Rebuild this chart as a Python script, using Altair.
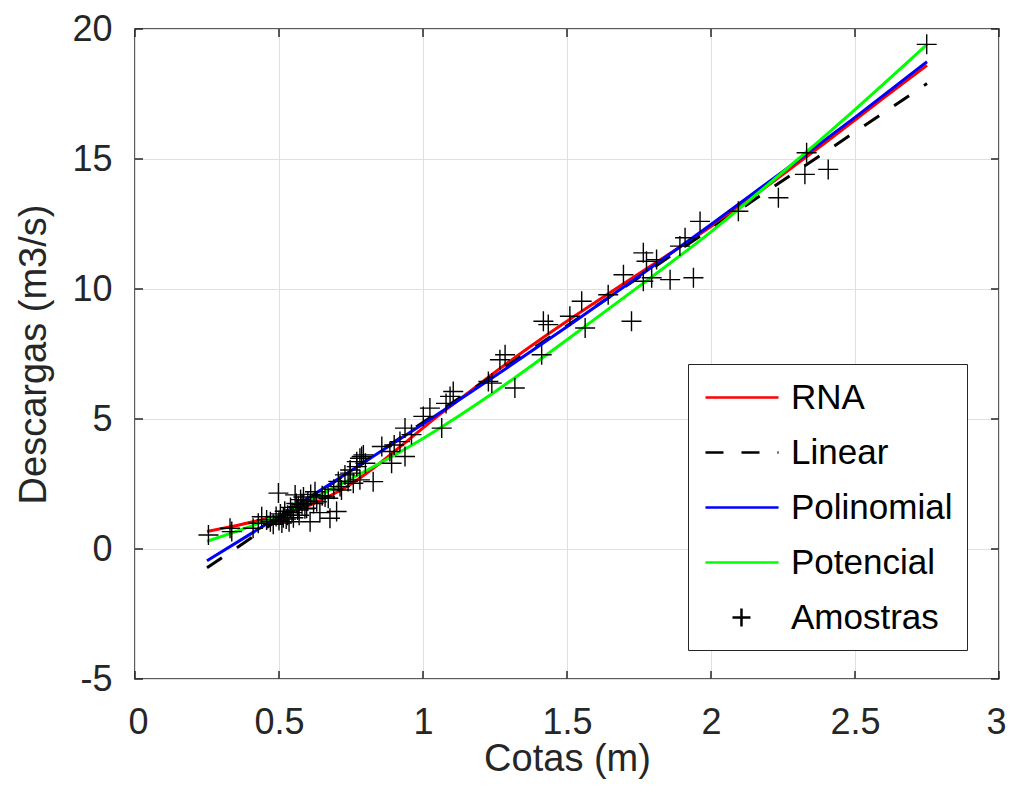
import altair as alt
import pandas as pd

FONT = "Liberation Sans"
FRAME = "#262626"

series_names = ["RNA", "Linear", "Polinomial", "Potencial", "Amostras"]
series_colors = ["#ff0000", "#000000", "#0000ff", "#00ff00", "#000000"]

x_ticks = [0, 0.5, 1, 1.5, 2, 2.5, 3]
y_ticks = [-5, 0, 5, 10, 15, 20]

# RNA curve
rna_x = [0.25, 0.35, 0.45, 0.55, 0.65, 0.75, 0.85, 0.95, 1.05, 1.15, 1.25, 1.4, 1.6, 1.8, 2.0, 2.2, 2.4, 2.6, 2.75]
rna_y = [0.67, 0.9, 1.15, 1.45, 1.9, 2.5, 3.3, 4.2, 5.1, 5.95, 6.8, 8.0, 9.5, 10.95, 12.4, 14.0, 15.65, 17.35, 18.6]

# Linear fit (straight dashed line, end points)
lin_x = [0.25, 2.75]
lin_y = [-0.72, 17.9]

# Polinomial fit
poly_x = [0.25, 0.5, 0.75, 1.0, 1.25, 1.5, 1.75, 2.0, 2.25, 2.5, 2.75]
poly_y = [-0.45, 1.25, 3.01, 4.81, 6.65, 8.55, 10.49, 12.48, 14.52, 16.6, 18.74]

# Potencial fit
pot_x = [0.25, 0.5, 0.75, 1.0, 1.25, 1.5, 1.75, 2.0, 2.25, 2.5, 2.75]
pot_y = [0.3, 1.3, 2.7, 4.25, 6.05, 8.05, 10.1, 12.2, 14.5, 16.9, 19.4]

# Amostras (samples)
am_x = [0.255, 0.33, 0.336, 0.41, 0.428, 0.44, 0.457, 0.47, 0.48, 0.49,
        0.498, 0.50, 0.505, 0.51, 0.515, 0.52, 0.525, 0.53, 0.535, 0.54,
        0.545, 0.55, 0.556, 0.56, 0.565, 0.567, 0.57, 0.575, 0.58, 0.585,
        0.59, 0.596, 0.60, 0.608, 0.61, 0.62, 0.625, 0.631, 0.642, 0.65,
        0.66, 0.671, 0.677, 0.69, 0.70, 0.706, 0.712, 0.717, 0.729, 0.74,
        0.747, 0.747, 0.758, 0.77, 0.77, 0.781, 0.781, 0.787, 0.793, 0.80,
        0.827, 0.857, 0.885, 0.891, 0.90, 0.92, 0.9375, 0.9375, 0.96, 1.001,
        1.024, 1.065, 1.08, 1.094, 1.105, 1.227, 1.239, 1.267, 1.285, 1.319,
        1.412, 1.418, 1.435, 1.510, 1.551, 1.563, 1.643, 1.696, 1.724, 1.765,
        1.765, 1.776, 1.794, 1.811, 1.858, 1.892, 1.910, 1.939, 1.962, 2.095,
        2.234, 2.326, 2.332, 2.407, 2.749]
am_y = [0.54, 0.80, 0.67, 0.80, 0.99, 1.24, 1.12, 1.05, 0.95, 1.25,
        2.15, 1.10, 1.35, 1.0, 1.2, 1.45, 1.15, 1.3, 1.05, 1.6,
        1.4, 1.2, 2.08, 1.75, 1.5, 1.63, 1.3, 1.9, 1.7, 2.0,
        1.55, 1.57, 1.85, 1.05, 2.1, 1.75, 2.2, 1.82, 1.4, 2.05,
        2.0, 1.95, 1.18, 2.3, 1.44, 2.6, 2.4, 2.27, 2.85, 2.6,
        2.92, 3.04, 2.53, 3.17, 3.36, 2.66, 3.49, 3.56, 3.62, 3.3,
        2.59, 3.94, 3.75, 3.3, 4.0, 4.13, 3.56, 4.65, 4.4, 5.1,
        5.42, 4.65, 5.6, 5.87, 6.06, 6.44, 6.38, 7.28, 7.47, 6.19,
        7.47, 8.76, 8.63, 8.95, 9.53, 8.5, 9.78, 10.55, 8.76, 11.39,
        10.3, 11.07, 10.43, 11.13, 10.36, 11.65, 11.97, 10.43, 12.6, 12.99,
        13.51, 14.41, 15.24, 14.6, 19.41]

W, H = 864, 650

xscale = alt.Scale(domain=[0, 3], nice=False, zero=False)
yscale = alt.Scale(domain=[-5, 20], nice=False, zero=False)
cscale = alt.Scale(domain=series_names, range=series_colors)

line_path = "M-0.89,0L3.17,0"
cross_path = "M0.61,0L1.61,0M1.11,-0.5L1.11,0.5"
legend = alt.Legend(
    title=None, orient="none", legendX=553, legendY=335,
    padding=14, fillColor="white", strokeColor=FRAME,
    labelFont=FONT, labelFontSize=35, labelColor="black", labelLimit=400,
    labelOffset=50, symbolSize=1296, symbolStrokeWidth=2.5, rowPadding=17,
    symbolType=alt.ExprRef(expr=f"datum.value === 'Amostras' ? '{cross_path}' : '{line_path}'"),
    symbolDash=alt.ExprRef(expr="datum.value === 'Linear' ? [18, 18] : [1, 0]"),
)

x_enc = alt.X("x:Q", scale=xscale, axis=alt.Axis(
    values=x_ticks, format="~g", title="Cotas (m)", labelPadding=26, titlePadding=0,
    labelFlush=True, labelFlushOffset=7, labelOverlap=False))
y_enc = alt.Y("y:Q", scale=yscale, axis=alt.Axis(
    values=y_ticks, title="Descargas (m3/s)", labelPadding=23, titlePadding=18,
    labelExpr="replace(datum.label, '−', '-')", labelOverlap=False))


def df_of(xs, ys, name):
    return pd.DataFrame({"x": xs, "y": ys, "series": name})


def curve(xs, ys, name, dash=None):
    kw = dict(strokeWidth=3, interpolate="monotone", clip=True)
    if dash:
        kw["strokeDash"] = dash
    return alt.Chart(df_of(xs, ys, name)).mark_line(**kw).encode(
        x=x_enc, y=y_enc,
        color=alt.Color("series:N", scale=cscale, legend=legend))


rna = curve(rna_x, rna_y, "RNA")
lin = curve(lin_x, lin_y, "Linear", dash=[18, 18])
poly = curve(poly_x, poly_y, "Polinomial")
pot = curve(pot_x, pot_y, "Potencial")

pts = alt.Chart(df_of(am_x, am_y, "Amostras")).mark_point(
    shape="M-1,0L1,0M0,-1L0,1", size=400, filled=False, strokeWidth=1.4, opacity=1
).encode(x=x_enc, y=y_enc,
         color=alt.Color("series:N", scale=cscale, legend=legend))

# inward tick marks on all four sides of the frame
xt = pd.DataFrame({"x": x_ticks})
yt = pd.DataFrame({"y": y_ticks})
tk = dict(color=FRAME, strokeWidth=1.5)
tick_b = alt.Chart(xt).mark_rule(**tk).encode(x=x_enc, y=alt.value(H), y2=alt.value(H - 8))
tick_t = alt.Chart(xt).mark_rule(**tk).encode(x=x_enc, y=alt.value(0), y2=alt.value(8))
tick_l = alt.Chart(yt).mark_rule(**tk).encode(y=y_enc, x=alt.value(0), x2=alt.value(8))
tick_r = alt.Chart(yt).mark_rule(**tk).encode(y=y_enc, x=alt.value(W), x2=alt.value(W - 8))

chart = alt.layer(rna, lin, poly, pot, pts, tick_b, tick_t, tick_l, tick_r).properties(
    width=W, height=H,
    autosize=alt.AutoSizeParams(type="none"),
    padding={"left": 127, "top": 21, "right": 7, "bottom": 100},
    background="white",
).configure_view(stroke=FRAME, strokeWidth=1.5).configure_axis(
    labelFont=FONT, titleFont=FONT, labelFontSize=36, titleFontSize=38,
    labelColor=FRAME, titleColor=FRAME, titleFontWeight="normal",
    grid=True, gridColor="#e0e0e0", gridWidth=1, ticks=False, domain=False,
)

chart.save("out.html", embed_options={"renderer": "svg", "actions": False})
